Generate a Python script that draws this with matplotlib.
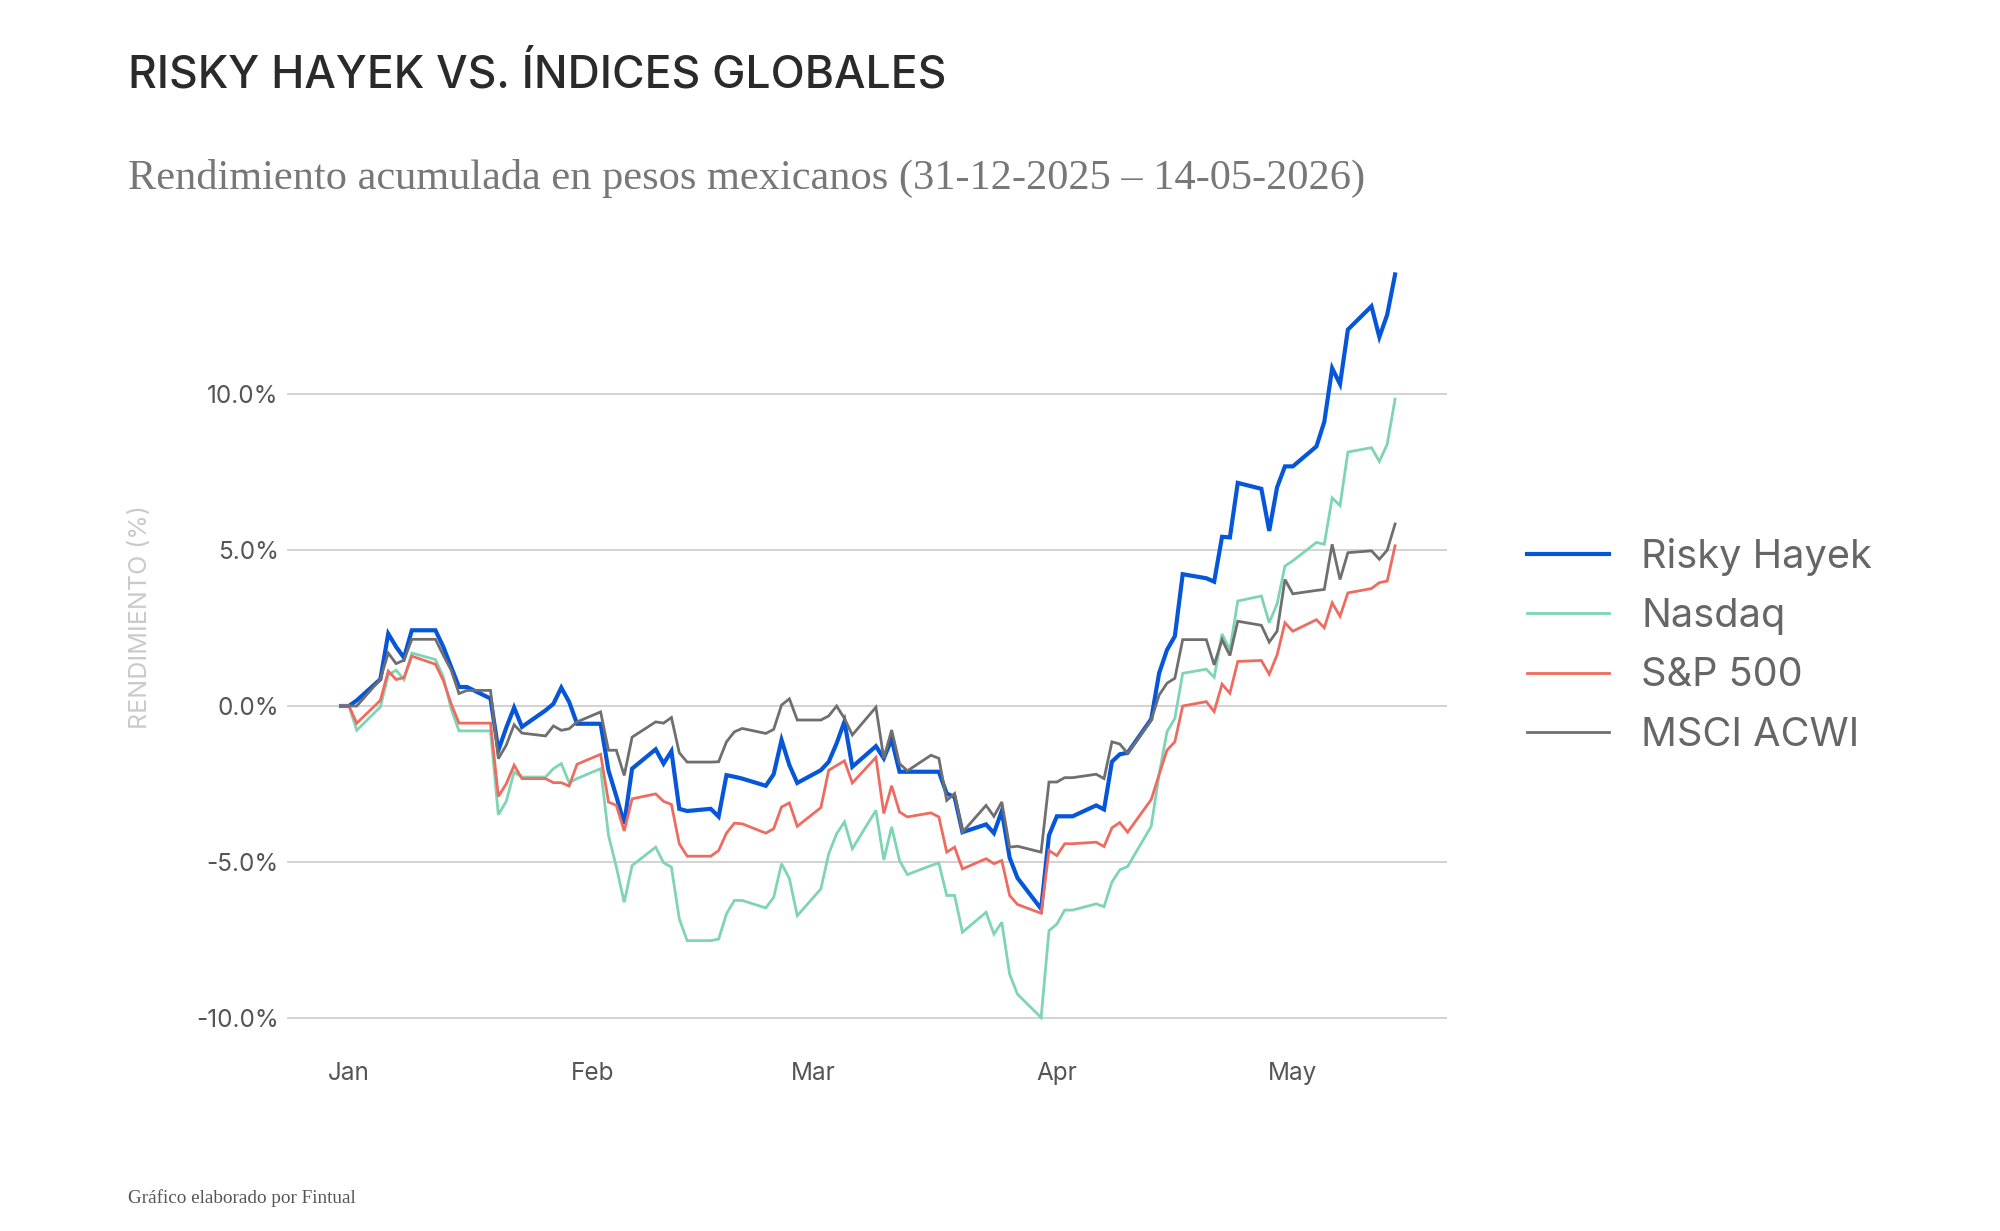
import matplotlib

matplotlib.use("Agg")
import matplotlib.dates as mdates
import matplotlib.pyplot as plt
import pandas as pd
from matplotlib.lines import Line2D
from matplotlib.ticker import FixedLocator, FuncFormatter

# trading days, 31-12-2025 .. 14-05-2026 (weekdays, holidays carry the previous value)
dates = pd.bdate_range("2025-12-31", "2026-05-14")

# cumulative return in MXN, % (one row per week)
risky_hayek = [
    0.00, 0.00, 0.18,
    0.86, 2.32, 1.90, 1.55, 2.43,
    2.43, 1.90, 1.25, 0.61, 0.61,
    0.24, -1.42, -0.70, -0.05, -0.67,
    -0.14, 0.07, 0.59, 0.13, -0.57,
    -0.57, -2.07, -2.90, -3.78, -2.01,
    -1.39, -1.85, -1.45, -3.30, -3.37,
    -3.30, -3.55, -2.22, -2.27, -2.33,
    -2.56, -2.19, -1.09, -1.90, -2.47,
    -2.06, -1.79, -1.20, -0.50, -1.95,
    -1.29, -1.68, -1.06, -2.11, -2.11,
    -2.11, -2.11, -2.81, -2.92, -4.05,
    -3.80, -4.08, -3.37, -4.87, -5.52,
    -6.51, -4.15, -3.54, -3.54, -3.54,
    -3.19, -3.32, -1.79, -1.55, -1.50,
    -0.42, 1.05, 1.80, 2.24, 4.23,
    4.10, 3.99, 5.43, 5.41, 7.16,
    6.97, 5.62, 7.02, 7.69, 7.69,
    8.33, 9.12, 10.84, 10.33, 12.08,
    12.83, 11.84, 12.56, 13.85,
]
nasdaq = [
    0.00, 0.00, -0.78,
    -0.03, 0.99, 1.15, 0.85, 1.70,
    1.49, 0.93, -0.09, -0.80, -0.80,
    -0.80, -3.49, -3.06, -2.12, -2.28,
    -2.28, -2.01, -1.85, -2.46, -2.33,
    -2.01, -4.15, -5.17, -6.30, -5.12,
    -4.53, -5.03, -5.17, -6.83, -7.53,
    -7.53, -7.48, -6.67, -6.24, -6.24,
    -6.48, -6.14, -5.06, -5.54, -6.73,
    -5.87, -4.74, -4.10, -3.72, -4.58,
    -3.35, -4.94, -3.88, -4.96, -5.41,
    -5.12, -5.04, -6.08, -6.08, -7.26,
    -6.62, -7.32, -6.94, -8.61, -9.25,
    -10.00, -7.21, -7.00, -6.55, -6.55,
    -6.35, -6.44, -5.65, -5.26, -5.15,
    -3.86, -2.20, -0.83, -0.40, 1.05,
    1.18, 0.92, 2.31, 1.80, 3.37,
    3.53, 2.67, 3.28, 4.49, 4.66,
    5.25, 5.19, 6.68, 6.43, 8.15,
    8.29, 7.85, 8.40, 9.85,
]
sp500 = [
    0.00, 0.00, -0.55,
    0.18, 1.12, 0.85, 0.91, 1.60,
    1.34, 0.82, 0.07, -0.55, -0.55,
    -0.55, -2.90, -2.50, -1.90, -2.33,
    -2.33, -2.46, -2.46, -2.57, -1.87,
    -1.55, -3.08, -3.19, -4.01, -2.98,
    -2.82, -3.06, -3.16, -4.42, -4.82,
    -4.82, -4.64, -4.08, -3.76, -3.78,
    -4.08, -3.94, -3.24, -3.11, -3.86,
    -3.26, -2.06, -1.91, -1.76, -2.47,
    -1.65, -3.45, -2.56, -3.40, -3.56,
    -3.43, -3.56, -4.69, -4.53, -5.23,
    -4.90, -5.06, -4.96, -6.08, -6.37,
    -6.65, -4.64, -4.80, -4.42, -4.42,
    -4.37, -4.51, -3.91, -3.74, -4.05,
    -3.00, -2.20, -1.42, -1.15, 0.00,
    0.14, -0.18, 0.70, 0.41, 1.43,
    1.46, 1.02, 1.64, 2.67, 2.40,
    2.77, 2.51, 3.31, 2.88, 3.63,
    3.77, 3.96, 4.01, 5.14,
]
msci_acwi = [
    0.00, 0.00, 0.00,
    0.86, 1.70, 1.36, 1.47, 2.14,
    2.14, 1.63, 1.15, 0.40, 0.50,
    0.50, -1.69, -1.26, -0.60, -0.87,
    -0.96, -0.64, -0.78, -0.73, -0.51,
    -0.19, -1.42, -1.42, -2.23, -1.00,
    -0.51, -0.55, -0.37, -1.50, -1.80,
    -1.80, -1.79, -1.15, -0.83, -0.72,
    -0.88, -0.75, 0.03, 0.23, -0.45,
    -0.45, -0.32, 0.00, -0.40, -0.93,
    -0.04, -1.68, -0.77, -1.85, -2.08,
    -1.58, -1.68, -3.03, -2.81, -4.05,
    -3.19, -3.54, -3.08, -4.53, -4.50,
    -4.69, -2.44, -2.44, -2.30, -2.30,
    -2.19, -2.33, -1.15, -1.22, -1.52,
    -0.45, 0.35, 0.73, 0.89, 2.13,
    2.13, 1.32, 2.13, 1.62, 2.72,
    2.59, 2.05, 2.40, 4.06, 3.60,
    3.71, 3.74, 5.19, 4.06, 4.92,
    4.98, 4.71, 5.00, 5.84,
]

series_names = ["Risky Hayek", "Nasdaq", "S&P 500", "MSCI ACWI"]
series_values = [risky_hayek, nasdaq, sp500, msci_acwi]
y_ticks = [-10, -5, 0, 5, 10]

colors = ["#0556d8", "#7fd4b3", "#ee6b60", "#6f6f6f"]
widths = [3.0, 2.0, 2.0, 2.0]

SANS = ["Inter", "DejaVu Sans"]
SERIF = ["Liberation Serif", "DejaVu Serif"]
plt.rcParams["font.family"] = SANS

W, H = 2000, 1231
fig = plt.figure(figsize=(W / 100, H / 100), dpi=100)
fig.patch.set_facecolor("white")

# plot area: gridlines run x 287..1447 px, 0% at y=706 px, 31.16 px per 1%
y_lo, y_hi = -10.6, 14.5
ax = fig.add_axes([287 / W, 1 - (706 + 31.16 * -y_lo) / H, 1160 / W,
                   31.16 * (y_hi - y_lo) / H])

for name, values, color, lw in zip(series_names, series_values, colors, widths):
    ax.plot(dates, values, color=color, lw=lw, label=name, solid_joinstyle="miter")

start = pd.Timestamp("2025-12-31")
ax.set_xlim(start - pd.Timedelta(days=6.87), start + pd.Timedelta(days=140.6))
ax.set_ylim(y_lo, y_hi)

ax.xaxis.set_major_locator(mdates.MonthLocator())
ax.xaxis.set_major_formatter(mdates.DateFormatter("%b"))
ax.yaxis.set_major_locator(FixedLocator(y_ticks))
ax.yaxis.set_major_formatter(FuncFormatter(lambda v, _: f"{v:.1f}%"))
ax.tick_params(axis="both", length=0, labelsize=17.5, labelcolor="#555555")
ax.tick_params(axis="x", pad=18.5)
ax.tick_params(axis="y", pad=6)
ax.grid(axis="y", color="#d0d0d0", lw=1.3)
ax.set_axisbelow(True)
for spine in ax.spines.values():
    spine.set_visible(False)

fig.text(140 / W, 1 - 617 / H, "RENDIMIENTO (%)", rotation=90, ha="center",
         va="center", fontsize=18, color="#cacaca")

fig.text(128 / W, 1 - 88 / H, "RISKY HAYEK VS. ÍNDICES GLOBALES", fontsize=32,
         fontweight="medium", color="#2a2a2a", va="baseline")
fig.text(128 / W, 1 - 189 / H,
         "Rendimiento acumulada en pesos mexicanos (31-12-2025 – 14-05-2026)",
         family=SERIF, fontsize=30.5, color="#777777", va="baseline")
fig.text(128 / W, 1 - 1203 / H, "Gráfico elaborado por Fintual", family=SERIF,
         fontsize=13.8, color="#555555", va="baseline")

handles = [Line2D([], [], color=c, lw=lw) for c, lw in zip(colors, widths)]
fig.legend(handles, series_names, loc="upper left",
           bbox_to_anchor=(1527 / W, 1 - 538 / H), frameon=False, fontsize=28.6,
           handlelength=2.07, handletextpad=0.8, labelspacing=0.56, borderpad=0,
           borderaxespad=0, labelcolor="#666666")

fig.savefig("out.png", dpi=100, facecolor="white")
